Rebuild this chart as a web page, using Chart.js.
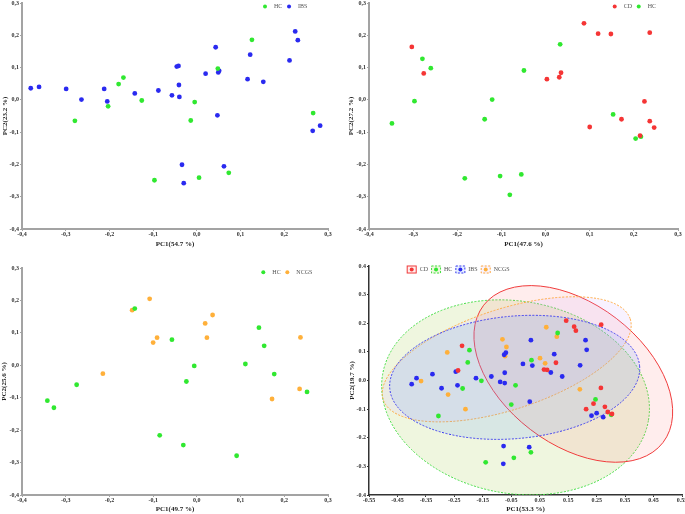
<!DOCTYPE html>
<html>
<head>
<meta charset="utf-8">
<script src="https://cdn.jsdelivr.net/npm/chart.js@4.4.0/dist/chart.umd.min.js"></script>
<style>
  html, body { margin: 0; padding: 0; background: #fff; }
  #wrap { position: relative; width: 685px; height: 514px; overflow: hidden; }
  .box { position: absolute; }
</style>
</head>
<body>
<div id="wrap">
  <div class="box" style="left:0;top:0;width:340px;height:255px"><canvas id="c1"></canvas></div>
  <div class="box" style="left:340px;top:0;width:345px;height:255px"><canvas id="c2"></canvas></div>
  <div class="box" style="left:0;top:255px;width:340px;height:259px"><canvas id="c3"></canvas></div>
  <div class="box" style="left:340px;top:255px;width:345px;height:259px"><canvas id="c4"></canvas></div>
</div>
<script>
// ---- tick values / labels
const ticks123 = [-0.4, -0.3, -0.2, -0.1, 0, 0.1, 0.2, 0.3];
const tickLabels123 = ['-0,4', '-0,3', '-0,2', '-0,1', '0,0', '0,1', '0,2', '0,3'];
const ticksX4 = [-0.55, -0.45, -0.35, -0.25, -0.15, -0.05, 0.05, 0.15, 0.25, 0.35, 0.45, 0.55];
const tickLabelsX4 = ['-0.55', '-0.45', '-0.35', '-0.25', '-0.15', '-0.05', '0.05', '0.15', '0.25', '0.35', '0.45', '0.55'];
const ticksY4 = [-0.4, -0.3, -0.2, -0.1, 0, 0.1, 0.2, 0.3, 0.4];
const tickLabelsY4 = ['-0.4', '-0.3', '-0.2', '-0.1', '0.0', '0.1', '0.2', '0.3', '0.4'];

// ---- panel 1: HC vs IBS
const hc1X = [0.126, 0.048, -0.168, -0.179, -0.126, -0.203, -0.005, -0.279, -0.014, 0.266, -0.097, 0.005, 0.073];
const hc1Y = [0.186, 0.097, 0.069, 0.049, -0.002, -0.020, -0.007, -0.065, -0.064, -0.041, -0.249, -0.241, -0.226];
const ibs1X = [-0.380, -0.361, -0.299, -0.264, -0.212, -0.205, -0.142, -0.088, -0.057, -0.040, -0.041, -0.046, -0.042, 0.043, 0.020, 0.049, 0.051, 0.047, 0.116, 0.122, 0.152, 0.212, 0.225, 0.231, 0.265, 0.282, -0.034, -0.030, 0.062];
const ibs1Y = [0.036, 0.040, 0.034, 0.001, 0.034, -0.005, 0.020, 0.029, 0.014, 0.009, 0.046, 0.103, 0.105, 0.163, 0.081, 0.085, 0.090, -0.048, 0.064, 0.140, 0.056, 0.122, 0.212, 0.185, -0.096, -0.080, -0.201, -0.258, -0.206];

// ---- panel 2: CD vs HC
const cd2X = [0.087, 0.119, 0.148, 0.236, -0.303, -0.276, 0.003, 0.031, 0.035, 0.224, 0.172, 0.236, 0.246, 0.100, 0.214];
const cd2Y = [0.237, 0.205, 0.204, 0.208, 0.164, 0.082, 0.064, 0.070, 0.084, -0.005, -0.060, -0.066, -0.086, -0.084, -0.111];
const hc2X = [0.033, -0.279, -0.260, -0.049, -0.297, -0.121, -0.138, -0.348, 0.153, 0.204, 0.216, -0.183, -0.103, -0.055, -0.081];
const hc2Y = [0.172, 0.127, 0.098, 0.091, -0.004, 0.001, -0.060, -0.073, -0.045, -0.120, -0.114, -0.243, -0.236, -0.231, -0.294];

// ---- panel 3: HC vs NCGS
const hc3X = [-0.142, -0.057, -0.006, -0.024, -0.275, -0.342, -0.327, -0.085, -0.031, 0.091, 0.111, 0.142, 0.154, 0.177, 0.252];
const hc3Y = [0.175, 0.079, -0.002, -0.050, -0.060, -0.109, -0.131, -0.216, -0.246, -0.279, 0.004, 0.116, 0.060, -0.027, -0.082];
const ncgs3X = [-0.108, -0.148, -0.091, -0.100, -0.215, 0.019, 0.036, 0.023, 0.237, 0.235, 0.172];
const ncgs3Y = [0.205, 0.170, 0.085, 0.070, -0.026, 0.129, 0.155, 0.085, 0.086, -0.073, -0.104];

// ---- panel 4: all four groups
const cd4X = [0.143, 0.171, 0.177, 0.266, -0.223, -0.237, 0.065, 0.076, 0.107, 0.265, 0.213, 0.239, 0.279, 0.289, 0.304];
const cd4Y = [0.209, 0.188, 0.174, 0.195, 0.121, 0.035, 0.038, 0.037, 0.062, -0.026, -0.100, -0.081, -0.092, -0.110, -0.117];
const hc4X = [0.113, -0.197, -0.203, -0.155, -0.221, -0.306, -0.035, -0.050, 0.021, 0.246, 0.301, -0.140, -0.041, 0.019];
const hc4Y = [0.166, 0.106, 0.063, -0.001, -0.028, -0.124, -0.017, -0.084, 0.071, -0.066, -0.120, -0.286, -0.270, -0.251];
const ibs4X = [-0.400, -0.383, -0.327, -0.295, -0.245, -0.239, -0.174, -0.120, -0.089, -0.073, -0.073, -0.075, -0.069, 0.019, -0.009, 0.024, 0.101, 0.089, 0.129, 0.211, 0.215, 0.192, 0.015, 0.232, 0.250, 0.273, -0.077, -0.078, 0.013];
const ibs4Y = [-0.013, 0.008, 0.022, -0.027, 0.031, -0.017, 0.008, 0.014, -0.005, -0.009, 0.027, 0.090, 0.097, 0.141, 0.058, 0.052, 0.092, 0.028, 0.014, 0.141, 0.107, 0.053, -0.074, -0.123, -0.114, -0.128, -0.229, -0.291, -0.233];
const ncgs4X = [0.073, 0.110, -0.081, -0.067, -0.072, -0.275, -0.367, -0.272, -0.211, 0.051, 0.069, 0.191];
const ncgs4Y = [0.186, 0.153, 0.144, 0.117, 0.085, 0.098, -0.002, -0.049, -0.100, 0.078, 0.060, -0.031];

// confidence ellipses of panel 4 (data units): centre, two semi-axis vectors
const ellipseGroups = ['HC', 'CD', 'NCGS', 'IBS'];
const ellipseCenter = [[-0.035, -0.059], [0.168, 0.023], [-0.066, 0.074], [-0.038, 0.011]];
const ellipseAxisA = [[0.467, -0.081], [0.315, -0.240], [0.434, 0.141], [0.439, 0.040]];
const ellipseAxisB = [[-0.058, -0.331], [-0.151, -0.194], [0.055, -0.167], [0.020, -0.213]];

const COL = { HC: '#30E830', IBS: '#2A2AF0', CD: '#F53535', NCGS: '#FFB03A' };
const ELL_STYLE = {
  HC:   { line: '#44DD44', fill: 'rgba(175,210,95,0.20)', dash: [2, 1.5] },
  CD:   { line: '#F03C3C', fill: 'rgba(255,110,110,0.12)', dash: [] },
  NCGS: { line: '#FFAA40', fill: 'rgba(205,160,255,0.14)', dash: [2, 1.5] },
  IBS:  { line: '#3C3CF0', fill: 'rgba(90,150,255,0.15)', dash: [2, 1.5] }
};
const SERIF = '"Liberation Serif", "Times New Roman", serif';

function pts(xs, ys) { return xs.map((x, i) => ({ x: x, y: ys[i] })); }

function ds(label, xs, ys) {
  return {
    label: label,
    data: pts(xs, ys),
    backgroundColor: COL[label],
    borderWidth: 0,
    pointRadius: 2.4,
    pointHoverRadius: 2.4
  };
}

function axis(o) {
  return {
    type: 'linear',
    min: o.ticks[0],
    max: o.ticks[o.ticks.length - 1],
    afterBuildTicks: s => { s.ticks = o.ticks.map(v => ({ value: v })); },
    afterFit: s => {
      if (o.isX) { s.height = o.size; s.paddingLeft = 0; s.paddingRight = 0; }
      else { s.width = o.size; s.paddingTop = 0; s.paddingBottom = 0; }
    },
    grid: { drawOnChartArea: false, drawTicks: true, tickLength: 2, color: o.color, lineWidth: 1 },
    border: { display: true, color: o.color, width: o.width },
    ticks: {
      autoSkip: false, maxRotation: 0, minRotation: 0,
      padding: o.isX ? 0 : 1,
      color: '#333',
      font: { family: SERIF, size: 6, weight: 'bold', lineHeight: 1 },
      callback: (v, i) => o.labels[i]
    },
    title: {
      display: true, text: o.title, color: '#222',
      font: { family: SERIF, size: 7, weight: 'bold', lineHeight: 1.2 },
      padding: o.isX ? { top: 0, bottom: o.tpad } : { top: o.tpad, bottom: 0 }
    }
  };
}

// legend drawn inside the plot area
const dotLegend = {
  id: 'dotLegend',
  afterDraw(chart, args, opts) {
    const ctx = chart.ctx;
    ctx.save();
    ctx.font = '6px ' + SERIF;
    ctx.textBaseline = 'middle';
    let x = opts.x;
    const y = opts.y;
    chart.data.datasets.forEach(d => {
      const c = COL[d.label];
      if (opts.boxed) {
        const st = ELL_STYLE[d.label];
        ctx.fillStyle = st.fill;
        ctx.fillRect(x, y - 4, 10, 8);
        ctx.strokeStyle = st.line;
        ctx.lineWidth = 1;
        ctx.setLineDash(st.dash);
        ctx.strokeRect(x + 0.5, y - 3.5, 9, 7);
        ctx.setLineDash([]);
        ctx.fillStyle = c;
        ctx.beginPath(); ctx.arc(x + 5, y, 2, 0, Math.PI * 2); ctx.fill();
        ctx.fillStyle = '#555';
        ctx.fillText(d.label, x + 13, y);
        x += 13 + ctx.measureText(d.label).width + 3;
      } else {
        ctx.fillStyle = c;
        ctx.beginPath(); ctx.arc(x, y, 2, 0, Math.PI * 2); ctx.fill();
        ctx.fillStyle = '#555';
        ctx.fillText(d.label, x + 9, y);
        x += 9 + ctx.measureText(d.label).width + 6.7;
      }
    });
    ctx.restore();
  }
};

const ellipsePlugin = {
  id: 'ellipses',
  beforeDatasetsDraw(chart) {
    const { ctx, chartArea: ca, scales: { x, y } } = chart;
    ctx.save();
    ctx.beginPath(); ctx.rect(ca.left, ca.top, ca.width, ca.height); ctx.clip();
    ellipseGroups.forEach((g, i) => {
      const c = ellipseCenter[i], a = ellipseAxisA[i], b = ellipseAxisB[i];
      const px = x.getPixelForValue(c[0]), py = y.getPixelForValue(c[1]);
      const ax = x.getPixelForValue(c[0] + a[0]) - px, ay = y.getPixelForValue(c[1] + a[1]) - py;
      const bx = x.getPixelForValue(c[0] + b[0]) - px, by = y.getPixelForValue(c[1] + b[1]) - py;
      const st = ELL_STYLE[g];
      ctx.save();
      ctx.beginPath();
      ctx.transform(ax, ay, bx, by, px, py);
      ctx.arc(0, 0, 1, 0, Math.PI * 2);
      ctx.restore();
      ctx.fillStyle = st.fill;
      ctx.fill();
      ctx.setLineDash(st.dash);
      ctx.strokeStyle = st.line;
      ctx.lineWidth = 1;
      ctx.stroke();
    });
    ctx.restore();
  }
};

function makeChart(id, datasets, cfg, extraPlugins) {
  return new Chart(document.getElementById(id), {
    type: 'scatter',
    data: { datasets: datasets },
    plugins: [dotLegend].concat(extraPlugins || []),
    options: {
      responsive: true,
      maintainAspectRatio: false,
      animation: false,
      layout: { padding: cfg.padding },
      plugins: {
        legend: { display: false },
        tooltip: { enabled: false },
        dotLegend: cfg.legend
      },
      scales: { x: cfg.x, y: cfg.y }
    }
  });
}

const gray = '#a3a3a3';

makeChart('c1', [ds('HC', hc1X, hc1Y), ds('IBS', ibs1X, ibs1Y)], {
  padding: { left: 0, right: 12, top: 3, bottom: 0 },
  legend: { x: 265, y: 6.5, boxed: false },
  x: axis({ isX: true, ticks: ticks123, labels: tickLabels123, size: 26, color: gray, width: 2, title: 'PC1(54.7 %)', tpad: 6.5 }),
  y: axis({ isX: false, ticks: ticks123, labels: tickLabels123, size: 22, color: gray, width: 2, title: 'PC2(23.2 %)', tpad: 1 })
});

makeChart('c2', [ds('CD', cd2X, cd2Y), ds('HC', hc2X, hc2Y)], {
  padding: { left: 0, right: 7, top: 3, bottom: 0 },
  legend: { x: 274.7, y: 6.5, boxed: false },
  x: axis({ isX: true, ticks: ticks123, labels: tickLabels123, size: 26, color: gray, width: 2, title: 'PC1(47.6 %)', tpad: 6.8 }),
  y: axis({ isX: false, ticks: ticks123, labels: tickLabels123, size: 29, color: gray, width: 2, title: 'PC2(27.2 %)', tpad: 6.5 })
});

makeChart('c3', [ds('HC', hc3X, hc3Y), ds('NCGS', ncgs3X, ncgs3Y)], {
  padding: { left: 0, right: 12, top: 13, bottom: 0 },
  legend: { x: 263.3, y: 17.3, boxed: false },
  x: axis({ isX: true, ticks: ticks123, labels: tickLabels123, size: 19, color: gray, width: 2, title: 'PC1(49.7 %)', tpad: 0.8 }),
  y: axis({ isX: false, ticks: ticks123, labels: tickLabels123, size: 22, color: gray, width: 2, title: 'PC2(25.6 %)', tpad: 0 })
});

makeChart('c4', [ds('CD', cd4X, cd4Y), ds('HC', hc4X, hc4Y), ds('IBS', ibs4X, ibs4Y), ds('NCGS', ncgs4X, ncgs4Y)], {
  padding: { left: 0, right: 3, top: 11, bottom: 0 },
  legend: { x: 66.7, y: 14.5, boxed: true },
  x: axis({ isX: true, ticks: ticksX4, labels: tickLabelsX4, size: 19, color: '#333', width: 1.5, title: 'PC1(53.3 %)', tpad: 0.8 }),
  y: axis({ isX: false, ticks: ticksY4, labels: tickLabelsY4, size: 29, color: '#333', width: 1.5, title: 'PC2(19.7 %)', tpad: 7.5 })
}, [ellipsePlugin]);
</script>
</body>
</html>
